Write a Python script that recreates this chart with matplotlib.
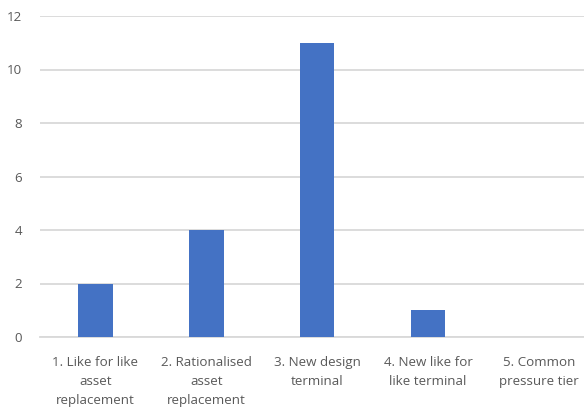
import numpy as np
import matplotlib
matplotlib.use("Agg")
import matplotlib.pyplot as plt

categories = ["1. Like for like\nasset\nreplacement",
              "2. Rationalised\nasset\nreplacement",
              "3. New design\nterminal",
              "4. New like for\nlike terminal",
              "5. Common\npressure tier"]
counts = [2, 4, 11, 1, 0]
yticks = [0, 2, 4, 6, 8, 10, 12]

bar_color = "#4472C4"
grid_color = "#D9D9D9"
text_color = "#595959"

plt.rcParams["font.family"] = ["Open Sans", "DejaVu Sans"]

fig = plt.figure(figsize=(5.84, 4.16), dpi=100)
ax = fig.add_axes([40 / 584, 1 - 337 / 416, 1 - 40 / 584, 321 / 416])

x = np.arange(len(categories))
ax.bar(x, counts, width=0.31, color=bar_color, zorder=3)

ax.set_ylim(0, 12)
ax.set_yticks(yticks)
ax.set_xlim(-0.5, 4.405)
ax.set_xticks(x)
ax.set_xticklabels(categories, linespacing=1.62)

ax.grid(axis="y", color=grid_color, linewidth=1.3, zorder=0)
for side in ["top", "right", "left"]:
    ax.spines[side].set_visible(False)
ax.spines["bottom"].set_color(grid_color)
ax.spines["bottom"].set_linewidth(1.3)
ax.tick_params(axis="both", length=0, colors=text_color, labelsize=9.6)
ax.tick_params(axis="y", pad=13)
ax.tick_params(axis="x", pad=13.5)

fig.savefig("out.png", dpi=100)
